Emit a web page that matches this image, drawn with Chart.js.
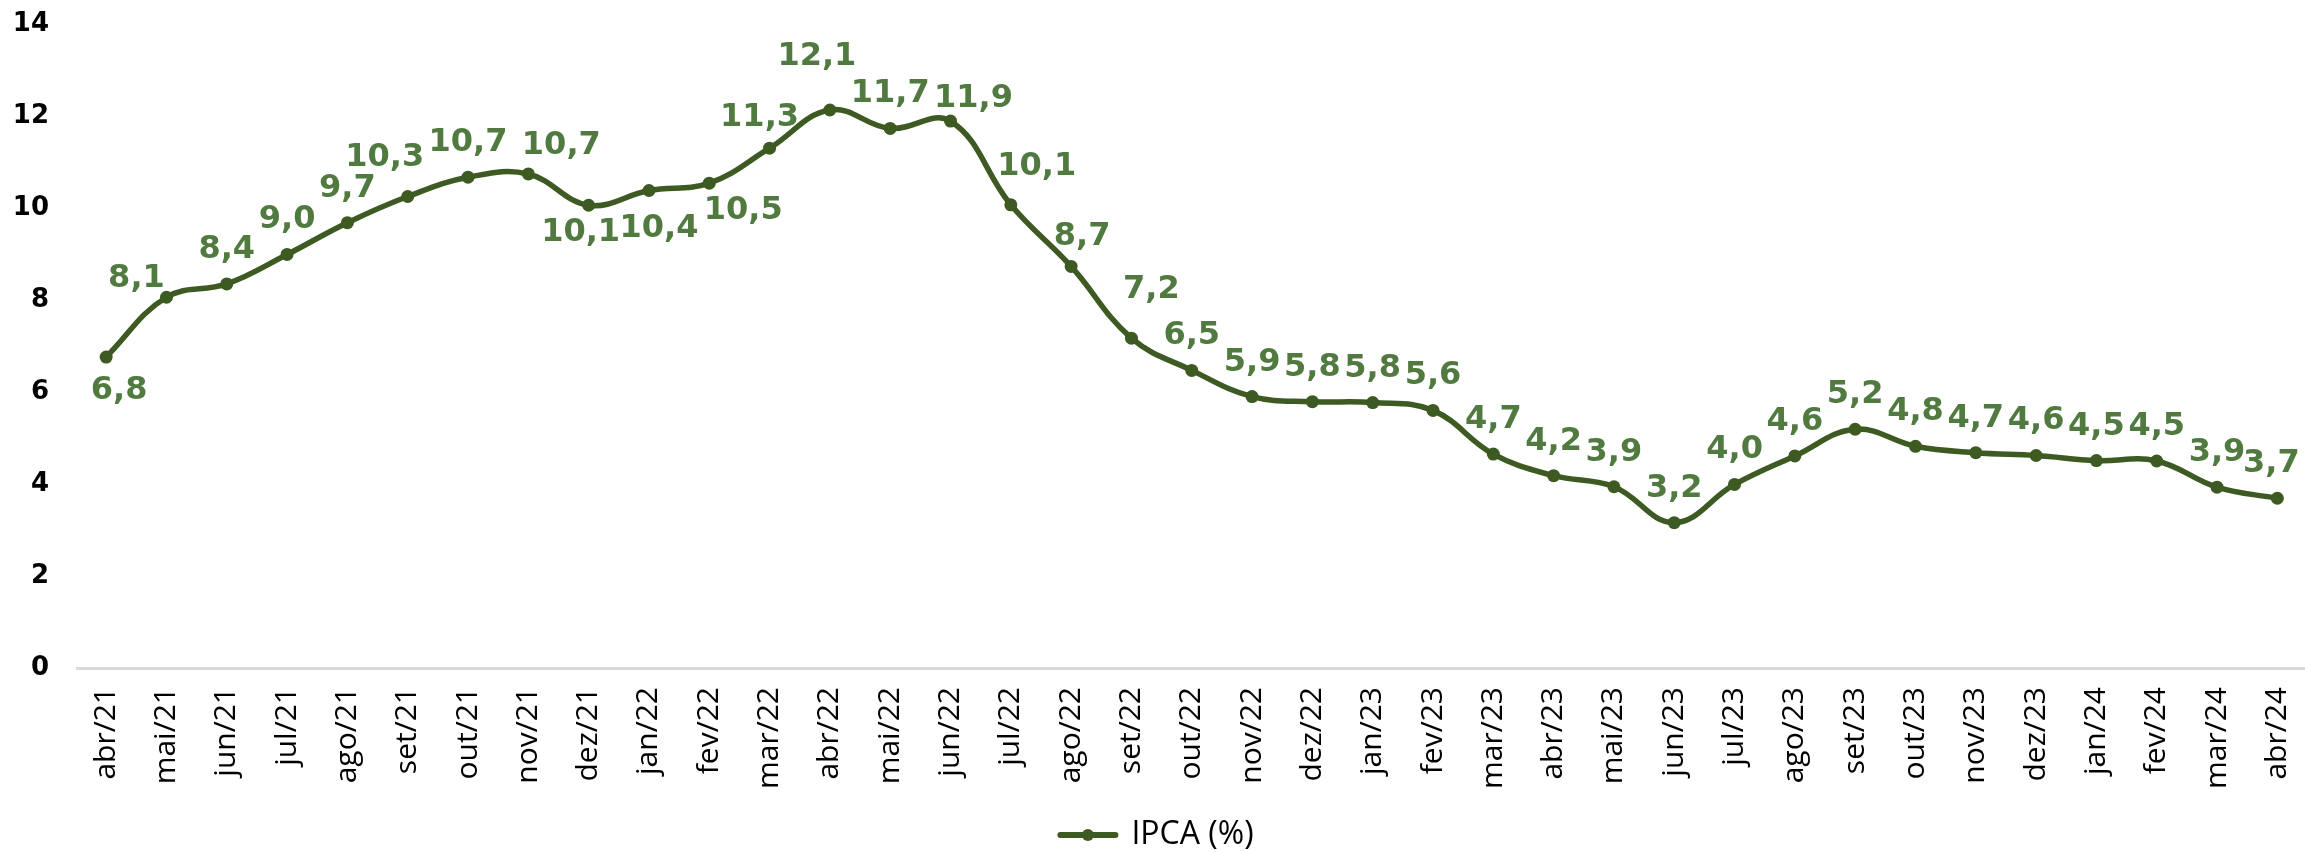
<!DOCTYPE html>
<html>
<head>
<meta charset="utf-8">
<script src="https://cdn.jsdelivr.net/npm/chart.js@4/dist/chart.umd.min.js"></script>
<style>
  html, body { margin: 0; padding: 0; background: #fff; overflow: hidden; }
  #wrap { width: 2314px; height: 852px; }
</style>
</head>
<body>
<div id="wrap"><canvas id="ipcaChart" width="2314" height="852"></canvas></div>
<script>
const months = ['abr/21','mai/21','jun/21','jul/21','ago/21','set/21','out/21','nov/21','dez/21',
  'jan/22','fev/22','mar/22','abr/22','mai/22','jun/22','jul/22','ago/22','set/22','out/22','nov/22','dez/22',
  'jan/23','fev/23','mar/23','abr/23','mai/23','jun/23','jul/23','ago/23','set/23','out/23','nov/23','dez/23',
  'jan/24','fev/24','mar/24','abr/24'];

const ipca = [6.76, 8.06, 8.35, 8.99, 9.68, 10.25, 10.67, 10.74, 10.06,
  10.38, 10.54, 11.30, 12.13, 11.73, 11.89, 10.07, 8.73, 7.17, 6.47, 5.90, 5.79,
  5.77, 5.60, 4.65, 4.18, 3.94, 3.16, 3.99, 4.61, 5.19, 4.82, 4.68, 4.62,
  4.51, 4.50, 3.93, 3.69];

const yTicks = [0, 2, 4, 6, 8, 10, 12, 14];

// where a value label sits relative to its point (px, text baseline); default is straight above
const labelNudge = {
  'abr/21': [13, 42], 'mai/21': [-30, -10], 'set/21': [-23, -31], 'nov/21': [33, -20],
  'dez/21': [-8, 36], 'jan/22': [10, 46], 'fev/22': [34, 36], 'mar/22': [-10, -22],
  'abr/22': [-13, -45], 'jun/22': [23, -14], 'jul/22': [26, -30], 'ago/22': [11, -21],
  'set/22': [20, -40], 'abr/24': [-6, -26]
};

const lineColor = '#3d5a23';
const labelColor = '#507a3f';

const fmt = v => (Math.round(v * 10 + 1e-6) / 10).toFixed(1).replace('.', ',');

const valueLabels = {
  id: 'valueLabels',
  afterDatasetsDraw(chart) {
    const ctx = chart.ctx;
    const meta = chart.getDatasetMeta(0);
    ctx.save();
    ctx.font = 'bold 32px "DejaVu Sans"';
    ctx.fillStyle = labelColor;
    ctx.textAlign = 'center';
    ctx.textBaseline = 'alphabetic';
    meta.data.forEach((pt, i) => {
      const [dx, dy] = labelNudge[months[i]] || [0, -26];
      ctx.fillText(fmt(ipca[i]), pt.x + dx, pt.y + dy);
    });
    ctx.restore();
  },
  afterDraw(chart) {
    // dot in the middle of the legend line, like the series markers
    const hb = chart.legend.legendHitBoxes[0];
    if (!hb) return;
    const ctx = chart.ctx;
    ctx.save();
    ctx.fillStyle = lineColor;
    ctx.beginPath();
    ctx.arc(hb.left + 55 / 2, hb.top + 16, 6, 0, Math.PI * 2);
    ctx.fill();
    ctx.restore();
  }
};

new Chart(document.getElementById('ipcaChart'), {
  type: 'line',
  data: {
    labels: months,
    datasets: [{
      label: 'IPCA (%)',
      data: ipca,
      borderColor: lineColor,
      backgroundColor: lineColor,
      borderWidth: 5.5,
      pointRadius: 6.5,
      pointBackgroundColor: lineColor,
      pointBorderWidth: 0,
      tension: 0.4,
      fill: false
    }]
  },
  options: {
    responsive: false,
    animation: false,
    layout: { padding: { top: 24, right: 0, left: 0, bottom: -9 } },
    scales: {
      x: {
        offset: true,
        grid: { display: false },
        border: { display: false },
        ticks: {
          minRotation: 90,
          maxRotation: 90,
          autoSkip: false,
          padding: 11,
          color: '#000',
          font: { family: '"Open Sans"', size: 30 }
        },
        afterFit(scale) {
          scale.height = 145;
          scale.paddingLeft = 0;
          scale.paddingRight = 0;
        }
      },
      y: {
        min: 0,
        max: 14,
        afterBuildTicks(scale) { scale.ticks = yTicks.map(v => ({ value: v })); },
        grid: {
          drawTicks: false,
          lineWidth: 3,
          color: c => c.tick && c.tick.value === 0 ? '#d9d9d9' : 'rgba(0,0,0,0)'
        },
        border: { display: false },
        ticks: {
          padding: 27,
          color: '#000',
          font: { family: '"DejaVu Sans"', size: 26, weight: 'bold' }
        },
        afterFit(scale) {
          scale.width = 76;
          scale.paddingTop = 0;
          scale.paddingBottom = 0;
        }
      }
    },
    plugins: {
      legend: {
        position: 'bottom',
        labels: {
          color: '#000',
          font: { family: '"Open Sans"', size: 32, lineHeight: 1 },
          usePointStyle: true,
          pointStyle: 'line',
          pointStyleWidth: 55,
          padding: 6,
          generateLabels(chart) {
            return [{
              text: 'IPCA (%)',
              fillStyle: lineColor,
              strokeStyle: lineColor,
              lineWidth: 6,
              lineCap: 'round',
              pointStyle: 'line',
              datasetIndex: 0
            }];
          }
        }
      },
      tooltip: { enabled: false }
    }
  },
  plugins: [valueLabels]
});
</script>
</body>
</html>
